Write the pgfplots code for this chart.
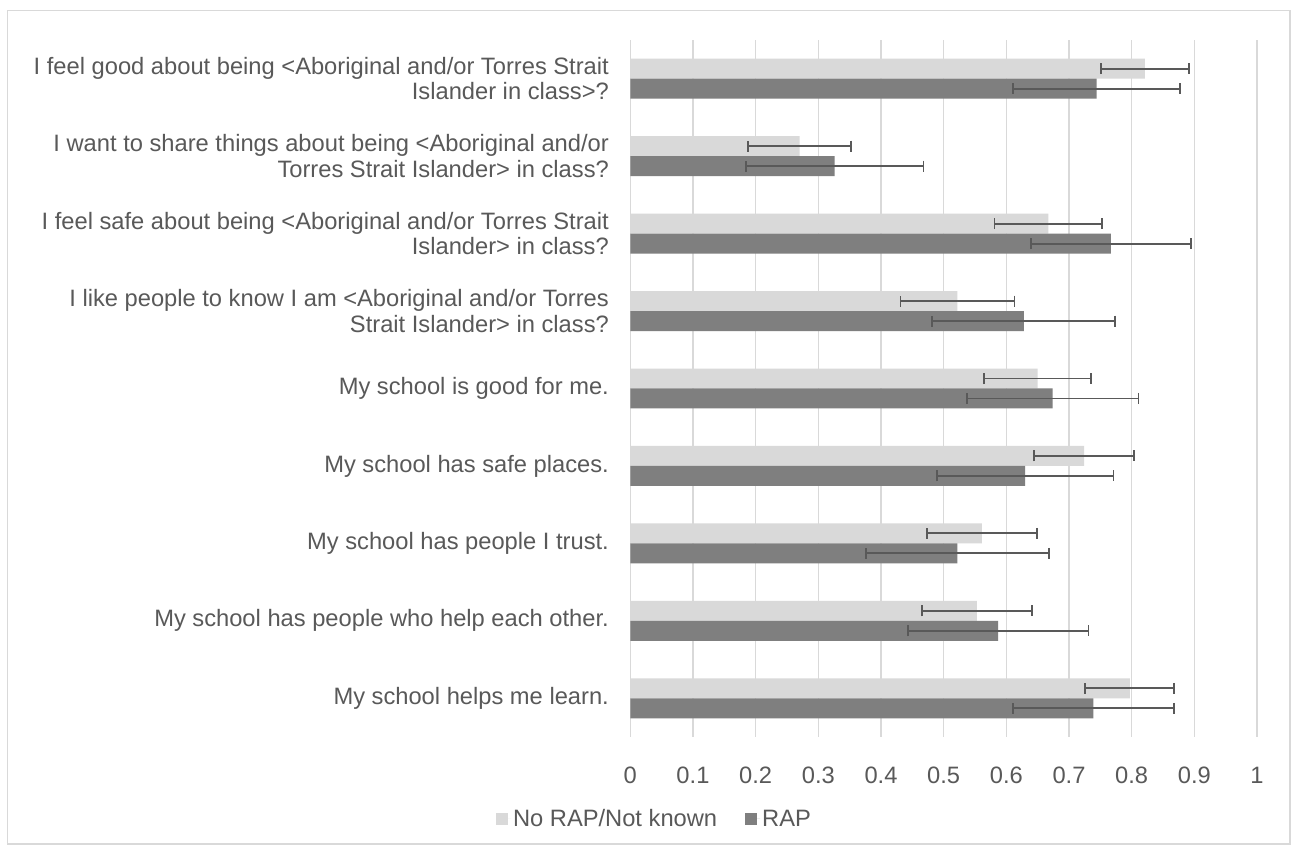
\documentclass[border=0pt]{standalone}
\usepackage{pgfplots}
\usepackage{pgfplotstable}
\pgfplotsset{compat=1.18}
\usepackage{fontspec}
\setmainfont{Liberation Sans}

\definecolor{txt}{HTML}{595959}
\definecolor{gridc}{HTML}{D9D9D9}
\definecolor{lightbar}{HTML}{D9D9D9}
\definecolor{darkbar}{HTML}{7F7F7F}
\definecolor{errc}{HTML}{595959}

% y = 8 is the first statement (top of the chart)
\pgfplotstableread{
y  val    err
8  0.821  0.070
7  0.270  0.082
6  0.667  0.086
5  0.522  0.091
4  0.650  0.085
3  0.724  0.080
2  0.561  0.088
1  0.553  0.088
0  0.797  0.071
}\norap

\pgfplotstableread{
y  val    err
8  0.744  0.133
7  0.326  0.142
6  0.767  0.128
5  0.628  0.146
4  0.674  0.137
3  0.630  0.141
2  0.522  0.146
1  0.587  0.144
0  0.739  0.128
}\rap

\newcommand{\chartfont}{\fontsize{23.7}{25.5}\selectfont}

\begin{document}
\begin{tikzpicture}
\path[use as bounding box] (0pt,0pt) rectangle (1293pt,848pt);
\fill[white] (0pt,0pt) rectangle (1293pt,848pt);
\draw[gridc, line width=1.2pt] (7.5pt,4pt) rectangle (1290pt,837.5pt);
\begin{axis}[
  at={(630.3pt,111pt)}, anchor=south west,
  scale only axis, width=626.7pt, height=697pt,
  xbar, bar width=0.258,
  xmin=0, xmax=1, ymin=-0.5, ymax=8.5,
  axis line style={draw=none},
  tick style={draw=none},
  xmajorgrids,
  major grid style={gridc, line width=1.3pt},
  xtick={0,0.1,0.2,0.3,0.4,0.5,0.6,0.7,0.8,0.9,1},
  /pgf/number format/assume math mode=true,
  ytick={0,1,2,3,4,5,6,7,8},
  yticklabels={
    {My school helps me learn.},
    {My school has people who help each other.},
    {My school has people I trust.},
    {My school has safe places.},
    {My school is good for me.},
    {I like people to know I am <Aboriginal and/or Torres\\Strait Islander> in class?},
    {I feel safe about being <Aboriginal and/or Torres Strait\\Islander> in class?},
    {I want to share things about being <Aboriginal and/or\\Torres Strait Islander> in class?},
    {I feel good about being <Aboriginal and/or Torres Strait\\Islander in class>?}
  },
  every tick label/.append style={font=\chartfont, text=txt},
  yticklabel style={align=right, anchor=east, inner sep=0pt, xshift=-17pt},
  xticklabel style={anchor=base, inner sep=0pt, yshift=-46.5pt},
  legend style={at={(0.0386,-0.1175)}, anchor=center, legend columns=2,
    draw=none, fill=none, font=\chartfont, text=txt,
    /tikz/every even column/.append style={column sep=26pt}},
  legend cell align=left,
  legend image code/.code={\fill[#1] (0pt,-6pt) rectangle (12pt,6pt);
    \path (12pt,0pt) -- (15pt,0pt);},
]
\addplot[fill=lightbar, draw=none, bar shift=0.129,
  error bars/.cd, x dir=both, x explicit,
  error bar style={draw=errc, line width=1.8pt},
  error mark options={draw=errc, line width=1.8pt, mark size=5.5pt, rotate=90}]
  table[x=val, y=y, x error=err] {\norap};
\addlegendentry{No RAP/Not known}
\addplot[fill=darkbar, draw=none, bar shift=-0.129,
  error bars/.cd, x dir=both, x explicit,
  error bar style={draw=errc, line width=1.8pt},
  error mark options={draw=errc, line width=1.8pt, mark size=5.5pt, rotate=90}]
  table[x=val, y=y, x error=err] {\rap};
\addlegendentry{RAP}
\end{axis}
\end{tikzpicture}
\end{document}
